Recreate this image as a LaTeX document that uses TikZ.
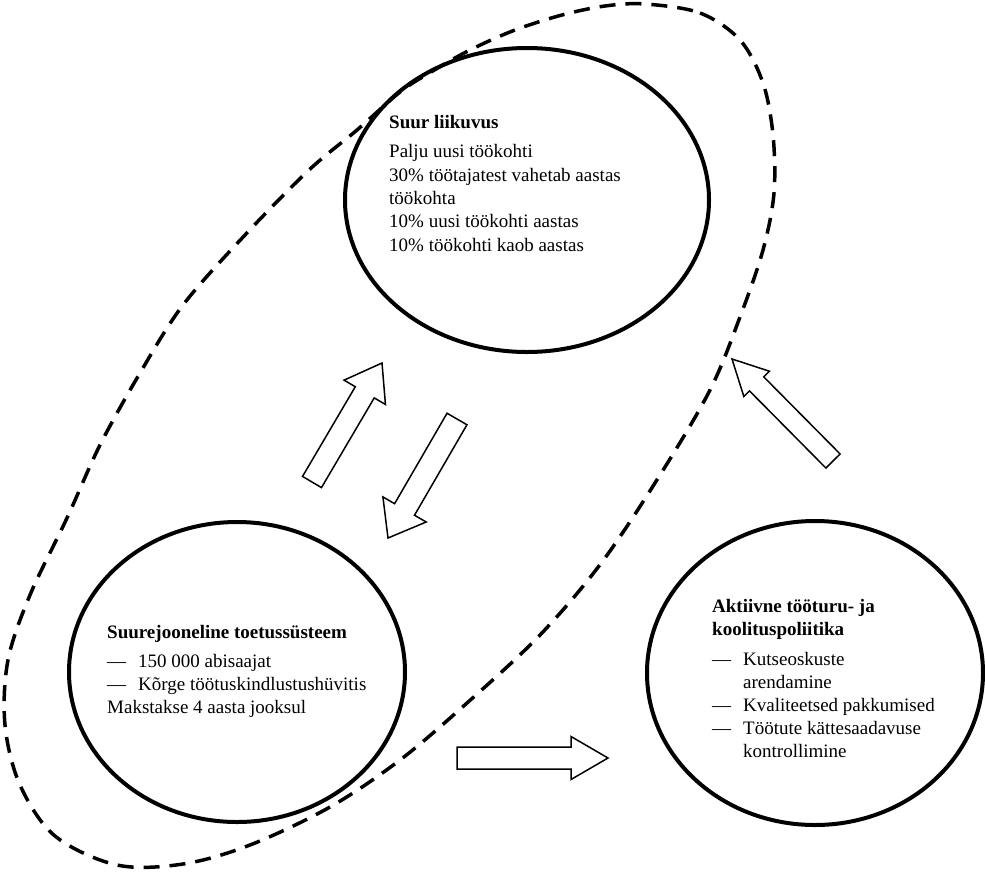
\documentclass[tikz,border=0pt]{standalone}
\usepackage{fontspec}
\setmainfont{Liberation Serif}
\usetikzlibrary{calc,shapes.geometric}
\newcommand{\blockarrow}[5]{%
  \path ($(#2)!#5!(#1)$) coordinate (bb);
  \draw[blockarr] ($(#1)!#3!90:(#2)$) -- ($(bb)!#3!90:(#2)$) -- ($(bb)!#4!90:(#2)$) -- (#2)
     -- ($(bb)!#4!-90:(#2)$) -- ($(bb)!#3!-90:(#2)$) -- ($(#1)!#3!-90:(#2)$) -- cycle;}
\begin{document}
\begin{tikzpicture}[x=1pt,y=-1pt,
  bigcirc/.style={draw, ellipse, line width=4pt, inner sep=0pt},
  dashline/.style={line width=3.5pt, dash pattern=on 16pt off 10pt},
  blockarr/.style={draw, line width=1.5pt, fill=white, line join=miter},
  txt/.style={anchor=base west, inner sep=0pt, font=\fontsize{19}{23.5}\selectfont},
  hd/.style={txt, font=\fontsize{19}{23.5}\selectfont\bfseries}]
\useasboundingbox (0,0) rectangle (985,871);
\fill[white] (0,0) rectangle (985,871);
% dashed group outline
\draw[dashline] plot[smooth cycle, tension=0.55] coordinates {
  (645,4) (700,13) (740,40) (763,83) (773,135) (774,193) (763,250) (740,317)
  (710,390) (660,475) (602,562) (540,635) (467,703) (400,760) (330,807) (250,845)
  (183,864) (117,865) (55,836) (20,785) (5,725) (8,660) (30,595) (67,518)
  (100,445) (140,373) (183,305) (245,235) (309,170) (357,130) (400,92) (431,72)
  (470,50) (515,30) (562,15) (605,6)};
% circles
\node[bigcirc, minimum width=364pt, minimum height=304pt] (top) at (527,200) {};
\node[bigcirc, minimum width=336pt, minimum height=300pt] (left) at (237,672) {};
\node[bigcirc, minimum width=336pt, minimum height=304pt] (right) at (815,673) {};
% top text
\node[hd] (t0) at (389,128) {Suur liikuvus};
\node[txt] (t1) at (389,157) {Palju uusi töökohti};
\node[txt] (t2) at (389,181) {30\% töötajatest vahetab aastas};
\node[txt] (t3) at (389,204) {töökohta};
\node[txt] (t4) at (389,227.5) {10\% uusi töökohti aastas};
\node[txt] (t5) at (389,251) {10\% töökohti kaob aastas};
% left text
\node[hd] (l0) at (107,638) {Suurejooneline toetussüsteem};
\node[txt] (l1d) at (107,667) {—};
\node[txt] (l1) at (138,667) {150 000 abisaajat};
\node[txt] (l2d) at (107,690) {—};
\node[txt] (l2) at (138,690) {Kõrge töötuskindlustushüvitis};
\node[txt] (l3) at (107,713) {Makstakse 4 aasta jooksul};
% right text
\node[hd] (r0) at (712,612) {Aktiivne tööturu- ja};
\node[hd] (r1) at (712,635) {koolituspoliitika};
\node[txt] (r2d) at (712,665) {—};
\node[txt] (r2) at (743,665) {Kutseoskuste};
\node[txt] (r3) at (743,688) {arendamine};
\node[txt] (r4d) at (712,711) {—};
\node[txt] (r4) at (743,711) {Kvaliteetsed pakkumised};
\node[txt] (r5d) at (712,734) {—};
\node[txt] (r5) at (743,734) {Töötute kättesaadavuse};
\node[txt] (r6) at (743,757) {kontrollimine};
% block arrows
\coordinate (a1t) at (312,482); \coordinate (a1h) at (382,363);
\coordinate (a2t) at (457,419); \coordinate (a2h) at (388,538);
\coordinate (a3t) at (457,758); \coordinate (a3h) at (608,758);
\coordinate (a4t) at (833,461); \coordinate (a4h) at (732,359);
\blockarrow{a1t}{a1h}{11pt}{24pt}{34pt}
\blockarrow{a2t}{a2h}{11.5pt}{25pt}{33pt}
\blockarrow{a3t}{a3h}{11pt}{21.5pt}{37pt}
\blockarrow{a4t}{a4h}{10pt}{18pt}{35pt}
\end{tikzpicture}
\end{document}
